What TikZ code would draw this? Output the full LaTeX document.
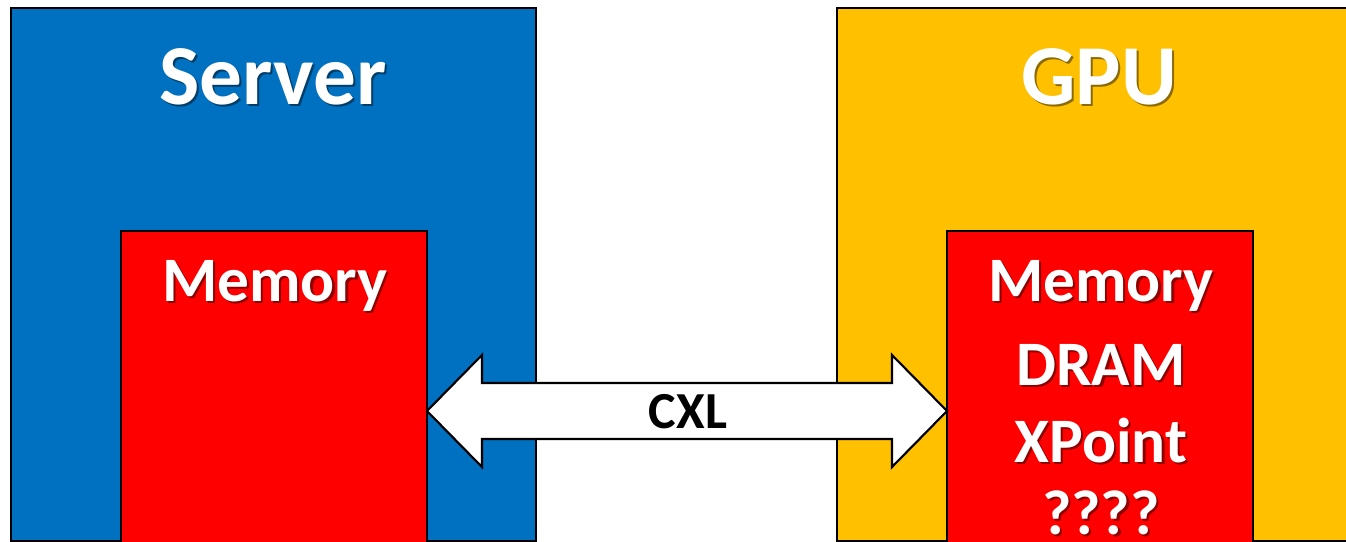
\documentclass[tikz,border=0pt]{standalone}
\usepackage{fontspec}
\setmainfont{Carlito}
\usetikzlibrary{calc}

\definecolor{srvblue}{HTML}{0070C0}
\definecolor{gpuyellow}{HTML}{FFC000}
\definecolor{memred}{HTML}{FF0000}

% white text with a soft drop shadow in a darker tone of its background
\newcommand{\shtxt}[2]{\rlap{\kern1.6pt\raisebox{-1.6pt}{\textcolor{#1}{#2}}}#2}

\tikzset{
  box/.style={draw=black, line width=1.6pt, inner sep=0pt, outer sep=0pt,
    anchor=north west},
  title/.style={anchor=base, text=white, font=\bfseries\fontsize{64pt}{66pt}\selectfont},
  memtext/.style={anchor=base, text=white, font=\bfseries\fontsize{47.5pt}{50pt}\selectfont},
  linkarrow/.style={draw=black, line width=1.6pt, fill=white, line join=miter},
  linktext/.style={anchor=base, text=black, font=\bfseries\fontsize{39pt}{41pt}\selectfont},
}

\begin{document}
\begin{tikzpicture}[x=0.75pt, y=-0.75pt]
  \useasboundingbox (0,0) rectangle (1346,542);
  \clip (0,0) rectangle (1346,542);

  % outer boxes
  \node[box, fill=srvblue, minimum width=525*0.75pt, minimum height=533*0.75pt]
    (server) at (11,8) {};
  \node[box, fill=gpuyellow, minimum width=525*0.75pt, minimum height=533*0.75pt]
    (gpu) at (837,8) {};

  % memory boxes
  \node[box, fill=memred, minimum width=306*0.75pt, minimum height=312*0.75pt]
    (memL) at (121,231) {};
  \node[box, fill=memred, minimum width=306*0.75pt, minimum height=312*0.75pt]
    (memR) at (947,231) {};

  % titles
  \node[title] (serverlbl) at (273,104) {\shtxt{black!45!srvblue}{Server}};
  \node[title] (gpulbl) at (1099,104) {\shtxt{black!45!gpuyellow}{GPU}};

  % memory labels
  \node[memtext] (memLlbl) at (275,301) {\shtxt{black!45!memred}{Memory}};
  \node[memtext] (memRlbl) at (1101,301) {\shtxt{black!45!memred}{Memory}};
  \node[memtext] (dram) at (1101,385) {\shtxt{black!45!memred}{DRAM}};
  \node[memtext] (xpoint) at (1101,462) {\shtxt{black!45!memred}{XPoint}};
  \node[memtext] (unknown) at (1101,534) {\shtxt{black!45!memred}{????}};

  % CXL double arrow between the two memories
  \coordinate (tipL) at ($(memL.north east)+(0,180)$);
  \coordinate (tipR) at ($(memR.north west)+(0,180)$);
  \draw[linkarrow] (tipL) -- ++(55,-56) -- ++(0,28)
    -- ($(tipR)+(-55,-28)$) -- ++(0,-28) -- (tipR) -- ++(-55,56) -- ++(0,-28)
    -- ($(tipL)+(55,28)$) -- ++(0,28) -- cycle;
  \node[linktext] (cxl) at ($(tipL)!0.5!(tipR)+(1,17)$) {CXL};
\end{tikzpicture}
\end{document}
